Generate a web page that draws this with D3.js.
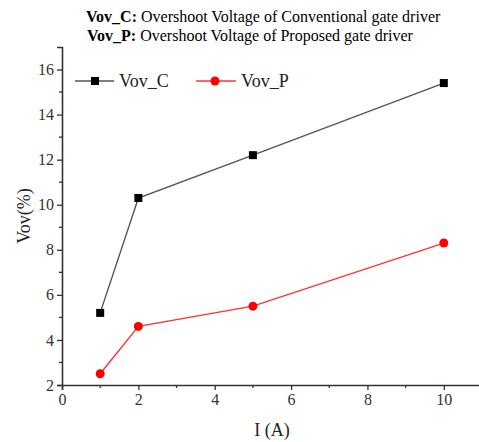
<!DOCTYPE html>
<html>
<head>
<meta charset="utf-8">
<script src="https://cdn.jsdelivr.net/npm/d3@7/dist/d3.min.js"></script>
<style>
  html, body { margin: 0; padding: 0; background: #fff; }
  svg { display: block; font-family: "Liberation Serif", "Times New Roman", serif; }
  svg text { font-family: "Liberation Serif", "Times New Roman", serif; }
  .tick text { font-size: 16px; }
</style>
</head>
<body>
<svg id="chart" width="479" height="442"></svg>
<script>
// Load current (A)
const currents = [1, 2, 5, 10];
// Overshoot voltage (%) of the conventional and proposed gate drivers
const vovConventional = [5.2, 10.3, 12.2, 15.4];
const vovProposed = [2.5, 4.6, 5.5, 8.3];
const xTicks = [0, 2, 4, 6, 8, 10];
const yTicks = [2, 4, 6, 8, 10, 12, 14, 16];
const seriesNames = ["Vov_C", "Vov_P"];

const svg = d3.select("#chart");

const x = d3.scaleLinear().domain([0, 11]).range([62, 482]);
const y = d3.scaleLinear().domain([2, 17]).range([385, 47]);

const axisColor = "#333";

// Header lines
const header = svg.append("g").attr("font-size", 16).attr("fill", "#000");
const h1 = header.append("text").attr("x", 86).attr("y", 22);
h1.append("tspan").attr("font-weight", "bold").text("Vov_C:");
h1.append("tspan").text(" Overshoot Voltage of Conventional gate driver");
const h2 = header.append("text").attr("x", 87).attr("y", 41);
h2.append("tspan").attr("font-weight", "bold").text("Vov_P:");
h2.append("tspan").text(" Overshoot Voltage of Proposed gate driver");

// Minor ticks
const gMinor = svg.append("g").attr("stroke", axisColor).attr("stroke-width", 1.3);
d3.range(3, 17, 2).forEach(v => {
  gMinor.append("line").attr("x1", x(0)).attr("x2", x(0) - 3).attr("y1", y(v)).attr("y2", y(v));
});
d3.range(1, 11, 2).forEach(v => {
  gMinor.append("line").attr("x1", x(v)).attr("x2", x(v)).attr("y1", y(2)).attr("y2", y(2) + 3);
});

// Axes
const xAxis = svg.append("g")
  .attr("transform", `translate(0,${y(2)})`)
  .call(d3.axisBottom(x).tickValues(xTicks).tickSize(5).tickPadding(4).tickFormat(d3.format("d")));
const yAxis = svg.append("g")
  .attr("transform", `translate(${x(0)},0)`)
  .call(d3.axisLeft(y).tickValues(yTicks).tickSize(5).tickPadding(3).tickFormat(d3.format("d")));

[xAxis, yAxis].forEach(g => {
  g.attr("font-family", null).attr("font-size", null);
  g.select(".domain").attr("stroke", axisColor).attr("stroke-width", 1.6);
  g.selectAll(".tick line").attr("stroke", axisColor).attr("stroke-width", 1.3);
  g.selectAll(".tick text").attr("fill", "#333");
});

// Axis titles
svg.append("text")
  .attr("x", x(5.5)).attr("y", 436)
  .attr("text-anchor", "middle").attr("font-size", 18).attr("fill", "#222")
  .text("I (A)");
svg.append("text")
  .attr("transform", `translate(30,${(y(2) + y(17)) / 2}) rotate(-90)`)
  .attr("text-anchor", "middle").attr("font-size", 18).attr("fill", "#222")
  .text("Vov(%)");

const line = d3.line().x(d => x(d[0])).y(d => y(d[1]));
const dataC = currents.map((c, i) => [c, vovConventional[i]]);
const dataP = currents.map((c, i) => [c, vovProposed[i]]);

const colC = "#555", markC = "#000";
const colP = "#f33", markP = "#f00";

svg.append("path").datum(dataC).attr("d", line)
  .attr("fill", "none").attr("stroke", colC).attr("stroke-width", 1.4);
svg.append("path").datum(dataP).attr("d", line)
  .attr("fill", "none").attr("stroke", colP).attr("stroke-width", 1.4);

svg.append("g").selectAll("rect").data(dataC).join("rect")
  .attr("x", d => x(d[0]) - 4).attr("y", d => y(d[1]) - 4)
  .attr("width", 8).attr("height", 8).attr("fill", markC);
svg.append("g").selectAll("circle").data(dataP).join("circle")
  .attr("cx", d => x(d[0])).attr("cy", d => y(d[1])).attr("r", 4.5).attr("fill", markP);

// Legend
const legend = svg.append("g").attr("font-size", 18);
const lc = legend.append("g");
lc.append("line").attr("x1", 75).attr("x2", 114).attr("y1", 81).attr("y2", 81)
  .attr("stroke", colC).attr("stroke-width", 1.4);
lc.append("rect").attr("x", 91).attr("y", 77).attr("width", 8).attr("height", 8).attr("fill", markC);
lc.append("text").attr("x", 119).attr("y", 87).attr("fill", "#222").text(seriesNames[0]);
const lp = legend.append("g");
lp.append("line").attr("x1", 196).attr("x2", 236).attr("y1", 81).attr("y2", 81)
  .attr("stroke", colP).attr("stroke-width", 1.4);
lp.append("circle").attr("cx", 215).attr("cy", 81).attr("r", 4.5).attr("fill", markP);
lp.append("text").attr("x", 241).attr("y", 87).attr("fill", "#222").text(seriesNames[1]);
</script>
</body>
</html>
